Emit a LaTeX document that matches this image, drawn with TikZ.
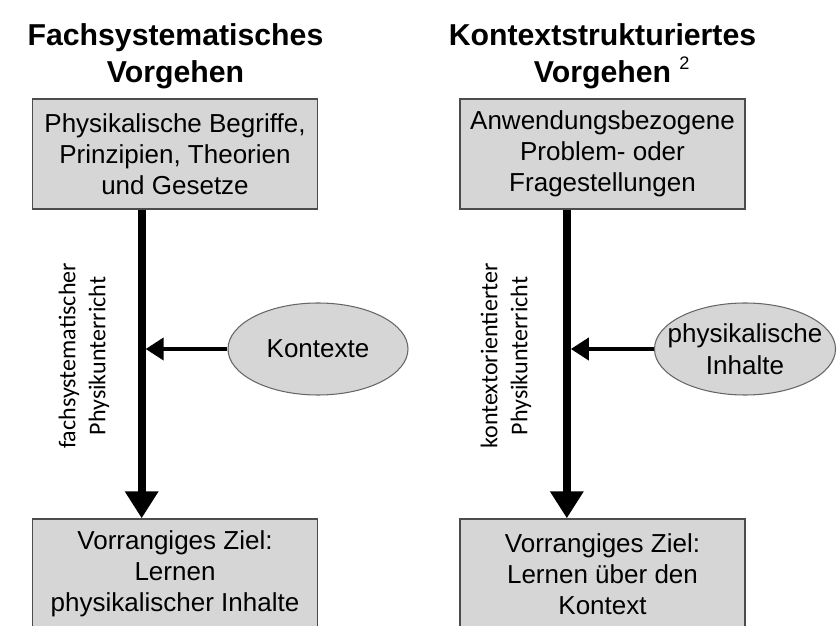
\documentclass[tikz,border=0pt]{standalone}
\usepackage{fontspec}
\setmainfont{Liberation Sans}
\newfontfamily\labelfont{Carlito}
\usetikzlibrary{arrows.meta,shapes.geometric}
\tikzset{
    box/.style={draw=black!70, line width=1.2pt, fill=black!16, minimum width=8.55cm, minimum height=3.3cm,
      inner sep=0pt, align=center, font=\fontsize{22.2}{26.5}\selectfont},
    ctx/.style={ellipse, draw=black!60, line width=0.9pt, fill=black!16, minimum width=5.4cm, minimum height=2.76cm,
      inner xsep=-0.4cm, inner ysep=0pt, align=center, font=\fontsize{22.2}{27}\selectfont},
    heading/.style={anchor=north, inner sep=0pt, align=center, font=\fontsize{25.8}{31.6}\selectfont\bfseries},
    vlabel/.style={rotate=90, inner sep=0pt, align=center, font=\labelfont\fontsize{20.5}{25.6}\selectfont},
    flow/.style={line width=6.8pt, -{Triangle[length=0.81cm, width=0.96cm]}},
    feed/.style={line width=3.4pt, -{Triangle[length=0.54cm, width=0.66cm]}},
}
\begin{document}
\begin{tikzpicture}[x=0.03cm, y=-0.03cm]
  \useasboundingbox (0,0) rectangle (837,626);

  %FACHSYSTEMATISCH
  \node[heading] (titelA) at (175.5,23) {Fachsystematisches\\Vorgehen};
  \node[box] (startA) at (175,154) {Physikalische Begriffe,\\Prinzipien, Theorien\\und Gesetze};
  \node[box] (zielA) at (175,574) {Vorrangiges Ziel:\\Lernen\\physikalischer Inhalte};
  \node[ctx] (kontexte) at (318,349) {Kontexte};
  \node[vlabel] (wegA) at (84,356) {fachsystematischer\\Physikunterricht};
  \coordinate (achseA) at ([xshift=-1cm]startA.south);
  \draw[flow] (achseA) -- (achseA |- zielA.north);
  \draw[feed] (kontexte.west) -- ([xshift=0.12cm]kontexte.west -| achseA);

  %KONTEXTSTRUKTURIERT
  \node[heading] (titelB) at (602.5,23) {Kontextstrukturiertes\\Vorgehen\rlap{\hspace{7pt}\raisebox{11pt}{\fontsize{15.5}{15.5}\selectfont\mdseries 2}}};
  \node[box] (startB) at (602.5,154) {Anwendungsbezogene\\Problem- oder\\Fragestellungen};
  \node[box] (zielB) at (602.5,574) {Vorrangiges Ziel:\\Lernen über den\\Kontext};
  \node[ctx] (inhalte) at (745,349) {physikalische\\Inhalte};
  \node[vlabel] (wegB) at (506,356) {kontextorientierter\\Physikunterricht};
  \coordinate (achseB) at ([xshift=-1.07cm]startB.south);
  \draw[flow] (achseB) -- (achseB |- zielB.north);
  \draw[feed] (inhalte.west) -- ([xshift=0.12cm]inhalte.west -| achseB);
\end{tikzpicture}
\end{document}
